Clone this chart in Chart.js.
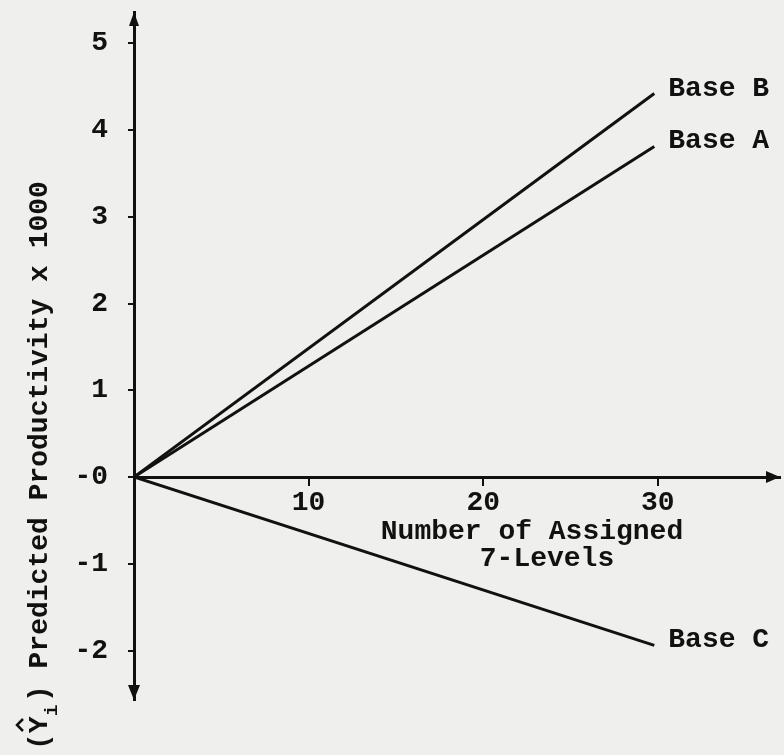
<!DOCTYPE html>
<html>
<head>
<meta charset="utf-8">
<script src="https://cdn.jsdelivr.net/npm/chart.js@4.4.1/dist/chart.umd.min.js"></script>
<style>
  body { margin: 0; background: #efefed; }
  canvas { display: block; }
</style>
</head>
<body>
<canvas id="chart" width="784" height="755"></canvas>
<script>
// values
const xValues = [0, 29.8];
const baseB = [0, 4.42];
const baseA = [0, 3.81];
const baseC = [0, -1.94];
const seriesNames = ['Base B', 'Base A', 'Base C'];

const xTickValues = [10, 20, 30];
const yTickValues = [-2, -1, 0, 1, 2, 3, 4, 5];
const yTickLabels = ['-2', '-1', '-0', '1', '2', '3', '4', '5'];

const xTitleLines = ['Number of Assigned', '7-Levels'];
const yTitleRest = ') Predicted Productivity x 1000';

const ink = '#111';
const fontFamily = "'Liberation Mono', 'DejaVu Sans Mono', monospace";

function toPoints(ys) {
    return ys.map((y, i) => ({ x: xValues[i], y: y }));
}

// arrows, axis titles and line-end labels
const decorations = {
    id: 'decorations',
    afterDraw(chart) {
        const ctx = chart.ctx;
        const area = chart.chartArea;
        const xs = chart.scales.x;
        const ys = chart.scales.y;
        const y0 = ys.getPixelForValue(0);
        const x0 = xs.getPixelForValue(0);

        ctx.save();
        ctx.fillStyle = ink;
        ctx.strokeStyle = ink;

        // arrow heads
        ctx.beginPath();
        ctx.moveTo(x0, area.top);
        ctx.lineTo(x0 - 5, area.top + 14);
        ctx.lineTo(x0 + 5, area.top + 14);
        ctx.closePath();
        ctx.fill();

        ctx.beginPath();
        ctx.moveTo(x0, area.bottom);
        ctx.lineTo(x0 - 6, area.bottom - 15);
        ctx.lineTo(x0 + 6, area.bottom - 15);
        ctx.closePath();
        ctx.fill();

        ctx.beginPath();
        ctx.moveTo(area.right, y0);
        ctx.lineTo(area.right - 14, y0 - 6);
        ctx.lineTo(area.right - 14, y0 + 6);
        ctx.closePath();
        ctx.fill();

        ctx.font = 'bold 28px ' + fontFamily;

        // series labels at line ends
        ctx.textAlign = 'left';
        ctx.textBaseline = 'alphabetic';
        chart.data.datasets.forEach(ds => {
            const last = ds.data[ds.data.length - 1];
            ctx.fillText(ds.label, xs.getPixelForValue(last.x) + 14, ys.getPixelForValue(last.y) + 2);
        });

        // x axis title
        ctx.textAlign = 'center';
        ctx.textBaseline = 'middle';
        ctx.fillText(xTitleLines[0], 532, 532);
        ctx.fillText(xTitleLines[1], 547, 559);

        // y axis title, rotated
        ctx.translate(47, 750);
        ctx.rotate(-Math.PI / 2);
        ctx.textAlign = 'left';
        ctx.textBaseline = 'alphabetic';
        ctx.fillText('(Y', 0, 0);
        // hat over the Y
        ctx.lineWidth = 2.5;
        ctx.beginPath();
        ctx.moveTo(19, -24);
        ctx.lineTo(25, -30);
        ctx.lineTo(31, -24);
        ctx.stroke();
        ctx.font = 'bold 19px ' + fontFamily;
        ctx.fillText('i', 34, 10);
        ctx.font = 'bold 28px ' + fontFamily;
        ctx.fillText(yTitleRest, 48, 0);

        ctx.restore();
    }
};

Chart.defaults.font.family = fontFamily;
Chart.defaults.color = ink;

new Chart(document.getElementById('chart'), {
    type: 'scatter',
    data: {
        datasets: [
            { label: seriesNames[0], data: toPoints(baseB) },
            { label: seriesNames[1], data: toPoints(baseA) },
            { label: seriesNames[2], data: toPoints(baseC) }
        ].map(ds => Object.assign(ds, {
            showLine: true,
            borderColor: ink,
            borderWidth: 3,
            pointRadius: 0,
            fill: false
        }))
    },
    options: {
        responsive: false,
        animation: false,
        devicePixelRatio: 1,
        layout: { padding: { left: 0, right: 4, top: 12, bottom: 55 } },
        plugins: {
            legend: { display: false },
            tooltip: { enabled: false }
        },
        scales: {
            x: {
                type: 'linear',
                position: { y: 0 },
                min: 0,
                max: 37,
                afterBuildTicks(scale) {
                    scale.ticks = xTickValues.map(v => ({ value: v }));
                },
                afterFit(scale) {
                    scale.paddingLeft = 0;
                    scale.paddingRight = 0;
                },
                grid: { drawOnChartArea: false, tickLength: 7, color: ink, lineWidth: 2 },
                border: { display: true, color: ink, width: 3 },
                ticks: {
                    padding: 2,
                    color: ink,
                    font: { size: 28, weight: 'bold' },
                    maxRotation: 0
                }
            },
            y: {
                type: 'linear',
                min: -2.57,
                max: 5.36,
                afterBuildTicks(scale) {
                    scale.ticks = yTickValues.map(v => ({ value: v }));
                },
                afterFit(scale) {
                    scale.width = 134;
                    scale.paddingTop = 0;
                    scale.paddingBottom = 0;
                },
                grid: { drawOnChartArea: false, tickLength: 6, color: ink, lineWidth: 2 },
                border: { display: true, color: ink, width: 3 },
                ticks: {
                    padding: 20,
                    color: ink,
                    font: { size: 28, weight: 'bold' },
                    callback: (value, index) => yTickLabels[index]
                }
            }
        }
    },
    plugins: [decorations]
});
</script>
</body>
</html>
